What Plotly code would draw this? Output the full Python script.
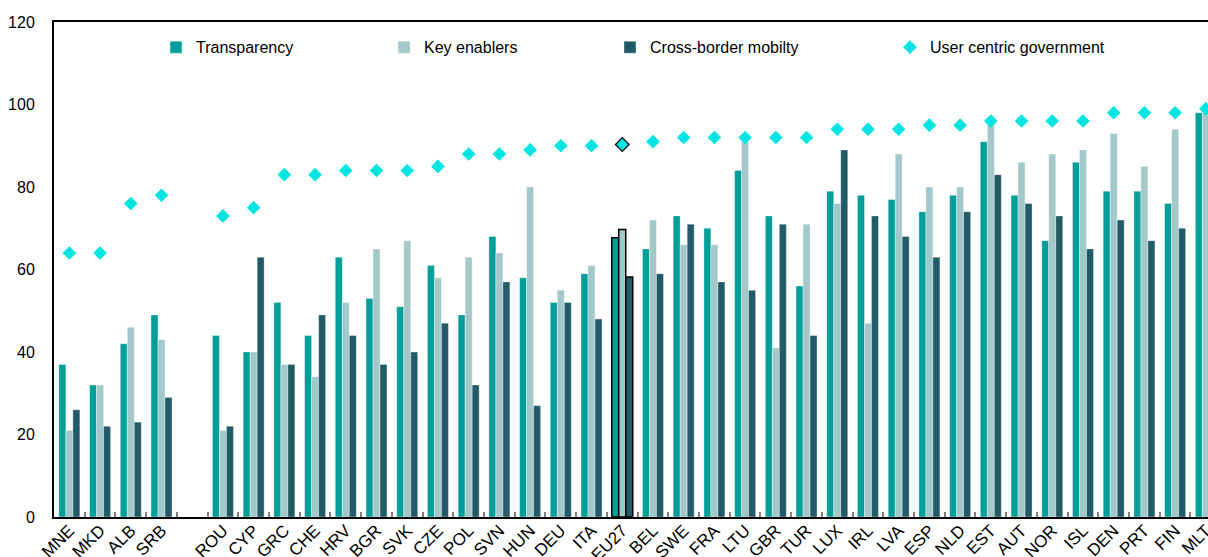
import plotly.graph_objects as go

countries = ["MNE", "MKD", "ALB", "SRB", " ", "ROU", "CYP", "GRC", "CHE", "HRV", "BGR", "SVK", "CZE",
             "POL", "SVN", "HUN", "DEU", "ITA", "EU27", "BEL", "SWE", "FRA", "LTU", "GBR", "TUR",
             "LUX", "IRL", "LVA", "ESP", "NLD", "EST", "AUT", "NOR", "ISL", "DEN", "PRT", "FIN", "MLT"]

transparency = [37, 32, 42, 49, None, 44, 40, 52, 44, 63, 53, 51, 61,
                49, 68, 58, 52, 59, 67.7, 65, 73, 70, 84, 73, 56,
                79, 78, 77, 74, 78, 91, 78, 67, 86, 79, 79, 76, 98]
key_enablers = [21, 32, 46, 43, None, 21, 40, 37, 34, 52, 65, 67, 58,
                63, 64, 80, 55, 61, 69.7, 72, 66, 66, 91, 41, 71,
                76, 47, 88, 80, 80, 96, 86, 88, 89, 93, 85, 94, 98]
cross_border = [26, 22, 23, 29, None, 22, 63, 37, 49, 44, 37, 40, 47,
                32, 57, 27, 52, 48, 58.2, 59, 71, 57, 55, 71, 44,
                89, 73, 68, 63, 74, 83, 76, 73, 65, 72, 67, 70, 80]
user_centric = [64, 64, 76, 78, None, 73, 75, 83, 83, 84, 84, 84, 85,
                88, 88, 89, 90, 90, 90.3, 91, 92, 92, 92, 92, 92,
                94, 94, 94, 95, 95, 96, 96, 96, 96, 98, 98, 98, 99]

C_T = "#009E99"
C_K = "#A3C8C9"
C_C = "#225A68"
C_U = "#00E5E1"

hl = [c == "EU27" for c in countries]
line_col = ["#000000" if h else "rgba(255,255,255,0.6)" for h in hl]
line_w = [1.5 if h else 0.6 for h in hl]

FONT = "Liberation Sans, Arial, sans-serif"
FS = 16

fig = go.Figure()
fig.add_trace(go.Bar(x=countries, y=transparency, name="Transparency", legend="legend",
                     marker=dict(color=C_T, line=dict(color=line_col, width=line_w))))
fig.add_trace(go.Bar(x=countries, y=key_enablers, name="Key enablers", legend="legend2",
                     marker=dict(color=C_K, line=dict(color=line_col, width=line_w))))
fig.add_trace(go.Bar(x=countries, y=cross_border, name="Cross-border mobilty", legend="legend3",
                     marker=dict(color=C_C, line=dict(color=line_col, width=line_w))))
fig.add_trace(go.Scatter(x=countries, y=user_centric, name="User centric government", legend="legend4",
                         mode="markers",
                         marker=dict(symbol="diamond", size=10.5, color=C_U,
                                     line=dict(color=["#000000" if h else C_U for h in hl],
                                               width=[1.2 if h else 0 for h in hl]))))

legend_common = dict(orientation="h", yanchor="middle", y=0.949, xanchor="left",
                     font=dict(family=FONT, size=FS, color="#000000"),
                     bgcolor="rgba(0,0,0,0)", itemwidth=30, tracegroupgap=0, visible=True)

fig.update_layout(
    width=1208, height=557,
    margin=dict(l=54, r=0, t=22, b=40),
    plot_bgcolor="white", paper_bgcolor="white",
    showlegend=True,
    barmode="group", bargap=0.316, bargroupgap=0,
    font=dict(family=FONT, size=FS, color="#000000"),
    legend=dict(x=0.0884, **legend_common),
    legend2=dict(x=0.286, **legend_common),
    legend3=dict(x=0.4818, **legend_common),
    legend4=dict(x=0.7244, **legend_common),
    xaxis=dict(type="category", range=[-0.5, 37.07], showline=True, linecolor="#000000", linewidth=2,
               mirror=True, ticks="inside", tickson="boundaries", ticklen=5, tickcolor="#808080",
               tickwidth=1.5, tickangle=-45, automargin=False, showgrid=False, ticklabelstandoff=-5,
               tickfont=dict(family=FONT, size=17, color="#000000")),
    yaxis=dict(range=[0, 120], dtick=20, showline=True, linecolor="#000000", linewidth=2,
               ticks="", showgrid=False, zeroline=False, automargin=False, ticklabelstandoff=14,
               tickfont=dict(family=FONT, size=FS, color="#000000")),
)

fig.write_html("out.html",
               config={"displayModeBar": False},
               post_script="document.body.style.margin='0';document.body.style.overflow='hidden';")
